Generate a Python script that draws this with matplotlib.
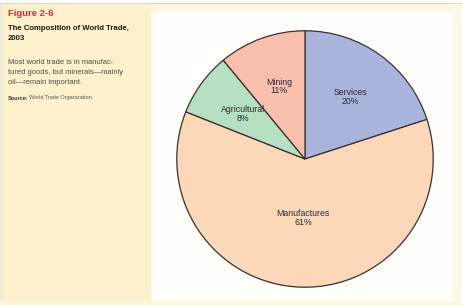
import matplotlib
matplotlib.use("Agg")
import matplotlib.pyplot as plt
from matplotlib.patches import Rectangle
import numpy as np

categories = ["Services", "Manufactures", "Agricultural", "Mining"]
shares = [20, 61, 8, 11]
colors = ["#aab5de", "#fcd8b8", "#b6e0c2", "#f8bfac"]

W, H = 462, 305
fig = plt.figure(figsize=(W / 100, H / 100), dpi=100)
fig.patch.set_facecolor("#fffefb")

cream = "#fef1cc"
# background bands
fig.patches.append(Rectangle((0, 1 - 11 / H), 1, 8 / H, transform=fig.transFigure,
                             facecolor="#fff6de", edgecolor="none", zorder=0))
fig.patches.append(Rectangle((0, 1 - 4 / H), 1, 1 / H, transform=fig.transFigure,
                             facecolor="#dcd6c8", edgecolor="none", zorder=0))
fig.patches.append(Rectangle((3 / W, 0), 148 / W, 1 - 4 / H, transform=fig.transFigure,
                             facecolor=cream, edgecolor="none", zorder=0))
fig.patches.append(Rectangle((0, 0), 3 / W, 1 - 4 / H, transform=fig.transFigure,
                             facecolor="#f0ead8", edgecolor="none", zorder=0))
fig.patches.append(Rectangle((452 / W, 0), 10 / W, 1 - 4 / H, transform=fig.transFigure,
                             facecolor="#fff8e6", edgecolor="none", zorder=0))
fig.patches.append(Rectangle((0, 0), 1, 4 / H, transform=fig.transFigure,
                             facecolor="#fff6de", edgecolor="none", zorder=0))

# left text panel
def ftext(x, y, s, **kw):
    fig.text(x / W, 1 - y / H, s, va="center", ha="left", **kw)

ftext(8, 14, "Figure 2-6", color="#d8262c", fontsize=6.8, fontweight="bold",
      family="Liberation Sans")
ftext(8, 28, "The Composition of World Trade,", color="#1a1a1a", fontsize=5.6,
      fontweight="bold", family="Liberation Sans")
ftext(8, 39, "2003", color="#1a1a1a", fontsize=5.6, fontweight="bold",
      family="Liberation Sans")
for i, line in enumerate(["Most world trade is in manufac-",
                          "tured goods, but minerals\u2014mainly",
                          "oil\u2014remain important."]):
    ftext(8, 62 + i * 10.3, line, color="#4a4a4a", fontsize=5.4, family="Liberation Sans")
ftext(8, 98, "Source:", color="#333333", fontsize=4.0, fontweight="bold",
      family="Liberation Sans")
ftext(29, 98, "World Trade Organization.", color="#555555", fontsize=4.0,
      family="Liberation Sans")

# pie
cx, cy, r = 305, 159, 129.5
ax = fig.add_axes([(cx - r) / W, 1 - (cy + r) / H, 2 * r / W, 2 * r / H])
ax.set_facecolor("none")
labels = [f"{c}\n{v}%" for c, v in zip(categories, shares)]
wedges, texts = ax.pie(shares, labels=labels, colors=colors, startangle=90,
                       counterclock=False, labeldistance=0.6,
                       wedgeprops=dict(edgecolor="#3a3030", linewidth=0.9),
                       textprops=dict(fontsize=6.3, ha="center", va="center",
                                      color="#2a2a3a", family="Liberation Sans",
                                      linespacing=0.95))
for w, t, c in zip(wedges, texts, categories):
    t.set_ha("center")
    if c == "Manufactures":
        th = np.deg2rad((w.theta1 + w.theta2) / 2)
        t.set_position((0.46 * np.cos(th), 0.46 * np.sin(th)))
ax.set_xlim(-1.01, 1.01)
ax.set_ylim(-1.01, 1.01)
ax.set_aspect("auto")
ax.axis("off")

fig.savefig("out.png", dpi=100, facecolor=fig.get_facecolor())
